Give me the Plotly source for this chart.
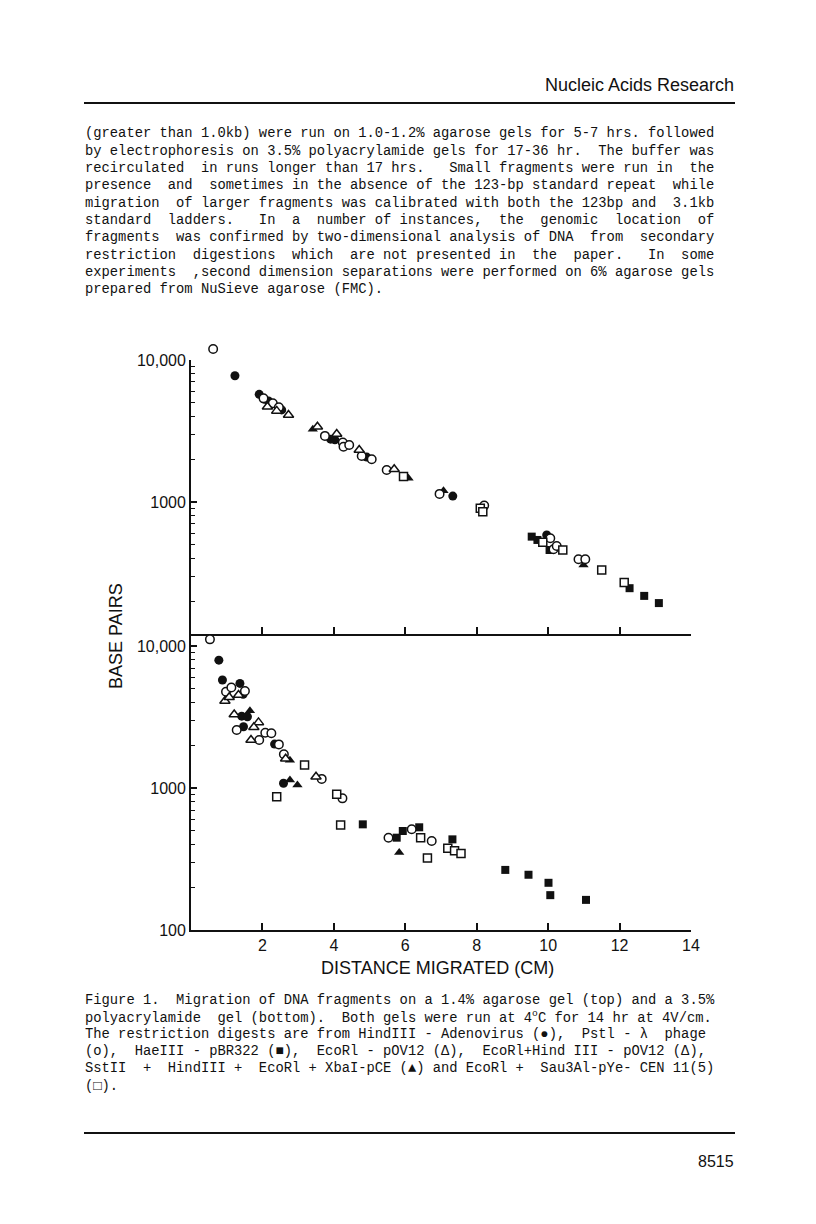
import plotly.graph_objects as go

# values (distance in cm, size in base pairs)

# top panel - 1.4% agarose gel
top_adeno_cm = [1.23, 1.91, 2.05, 2.17, 2.54, 3.91, 4.03, 4.92, 7.33, 9.96]
top_adeno_bp = [7740, 5730, 5300, 5140, 4450, 2770, 2740, 2070, 1100, 586]

top_lambda_cm = [2.03, 2.29, 2.46, 3.75, 4.25, 4.27, 4.43, 4.78, 5.06,
                 5.48, 6.96, 8.21, 10.06, 10.15, 10.24, 10.85, 11.04]
top_lambda_bp = [5370, 4950, 4640, 2920, 2620, 2450, 2520, 2110, 2000,
                 1680, 1140, 943, 555, 464, 490, 395, 395]
# the largest lambda band sits just above the 10,000 tick, outside the frame
top_lambda_above_cm = [0.62]
top_lambda_above_bp = [11950]

top_pbr_cm = [9.54, 9.70, 10.04, 12.28, 12.69, 13.10]
top_pbr_bp = [570, 540, 459, 247, 218, 194]

top_pov_cm = [2.14, 2.40, 2.73, 3.54, 4.08, 4.71, 5.69]
top_pov_bp = [4690, 4380, 4100, 3390, 3010, 2320, 1700]

top_pce_cm = [3.41, 6.09, 7.07, 10.99]
top_pce_bp = [3250, 1470, 1200, 360]

top_cen_cm = [5.95, 8.10, 8.17, 9.85, 10.41, 11.50, 12.13]
top_cen_bp = [1510, 904, 855, 520, 459, 332, 271]

# bottom panel - 3.5% polyacrylamide gel
bot_adeno_cm = [0.78, 0.88, 1.37, 1.46, 1.42, 1.58, 1.47, 2.34, 2.59]
bot_adeno_bp = [7960, 5770, 5460, 4570, 3210, 3180, 2700, 2040, 1080]

bot_lambda_cm = [0.53, 0.98, 1.13, 1.51, 1.28, 1.91, 2.08, 2.25, 2.46, 2.60,
                 3.66, 4.24, 5.53, 6.18, 6.74]
bot_lambda_bp = [11150, 4770, 5110, 4820, 2560, 2180, 2450, 2430, 2030, 1730,
                 1160, 846, 447, 512, 423]

bot_pbr_cm = [4.81, 5.76, 5.93, 6.39, 7.32, 8.80, 9.45, 10.01, 10.06, 11.06]
bot_pbr_bp = [555, 447, 498, 529, 435, 265, 245, 215, 176, 163]

bot_pov_cm = [0.95, 1.07, 1.33, 1.21, 1.89, 1.76, 1.68, 2.65, 3.50]
bot_pov_bp = [4100, 4360, 4520, 3300, 2900, 2680, 2180, 1610, 1200]

bot_pce_cm = [1.65, 2.77, 2.77, 2.98, 5.83]
bot_pce_bp = [3500, 1570, 1140, 1050, 352]

bot_cen_cm = [3.18, 2.40, 4.08, 4.19, 6.43, 6.62, 7.19, 7.38, 7.56]
bot_cen_bp = [1450, 869, 904, 548, 447, 321, 376, 361, 346]

x_ticks = [2, 4, 6, 8, 10, 12, 14]

W, H = 816, 1224
PAGE_OFFSET = 8  # the html body margin pushes the figure 8px right and down
INK = "#111111"
MONO = "Liberation Mono, Courier New, monospace"
SANS = "Liberation Sans, Arial, sans-serif"

body_lines = [
    "(greater than 1.0kb) were run on 1.0-1.2% agarose gels for 5-7 hrs. followed",
    "by electrophoresis on 3.5% polyacrylamide gels for 17-36 hr.  The buffer was",
    "recirculated  in runs longer than 17 hrs.   Small fragments were run in  the",
    "presence  and  sometimes in the absence of the 123-bp standard repeat  while",
    "migration  of larger fragments was calibrated with both the 123bp and  3.1kb",
    "standard  ladders.   In  a  number of instances,  the  genomic  location  of",
    "fragments  was confirmed by two-dimensional analysis of DNA  from  secondary",
    "restriction  digestions  which  are not presented in  the  paper.   In  some",
    "experiments  ,second dimension separations were performed on 6% agarose gels",
    "prepared from NuSieve agarose (FMC).",
]

caption_lines = [
    "Figure 1.  Migration of DNA fragments on a 1.4% agarose gel (top) and a 3.5%",
    "polyacrylamide  gel (bottom).  Both gels were run at 4<sup>o</sup>C for 14 hr at 4V/cm.",
    "The restriction digests are from HindIII - Adenovirus (\u25cf),  Pstl - \u03bb  phage",
    "(o),  HaeIII - pBR322 (\u25a0),  EcoRl - pOV12 (\u0394),  EcoRl+Hind III - pOV12 (\u0394),",
    "SstII  +  HindIII +  EcoRl + XbaI-pCE (\u25b2) and EcoRl +  Sau3Al-pYe- CEN 11(5)",
    "(\u25a1).",
]


def py(pix):
    """page pixel row -> paper y"""
    return 1 - (pix - PAGE_OFFSET) / H


def px(pix):
    """page pixel column -> paper x"""
    return (pix - PAGE_OFFSET) / W


def add_series(fig, x, y, symbol, filled, size, axis):
    fig.add_trace(go.Scatter(
        x=x, y=y, mode="markers",
        xaxis="x" if axis == 1 else "x%d" % axis,
        yaxis="y" if axis == 1 else "y%d" % axis,
        cliponaxis=False,
        showlegend=False,
        marker=dict(
            symbol=symbol, size=size,
            color=INK if filled else "white",
            line=dict(color=INK, width=0 if filled else 1.5),
        ),
    ))


fig = go.Figure()

# filled markers first, open ones on top (as in the print)
for axis, data in [
    (1, [(top_adeno_cm, top_adeno_bp, "circle", True, 9),
         (top_pbr_cm, top_pbr_bp, "square", True, 8),
         (top_pce_cm, top_pce_bp, "triangle-up", True, 9),
         (top_lambda_cm, top_lambda_bp, "circle", False, 8.5),
         (top_pov_cm, top_pov_bp, "triangle-up", False, 9),
         (top_cen_cm, top_cen_bp, "square", False, 8)]),
    (3, [(top_lambda_above_cm, top_lambda_above_bp, "circle", False, 8.5)]),
    (2, [(bot_adeno_cm, bot_adeno_bp, "circle", True, 9),
         (bot_pbr_cm, bot_pbr_bp, "square", True, 8),
         (bot_pce_cm, bot_pce_bp, "triangle-up", True, 9),
         (bot_lambda_cm, bot_lambda_bp, "circle", False, 8.5),
         (bot_pov_cm, bot_pov_bp, "triangle-up", False, 9),
         (bot_cen_cm, bot_cen_bp, "square", False, 8)]),
]:
    for x, y, sym, filled, size in data:
        add_series(fig, x, y, sym, filled, size, axis)

minor_vals = [m * 10 ** d for d in (2, 3) for m in range(2, 10)]
tick_font = dict(family=SANS, size=16, color=INK)

x_common = dict(
    range=[0, 14], tickmode="array", tickvals=x_ticks, automargin=False,
    showline=True, linecolor=INK, linewidth=1.8,
    ticks="inside", ticklen=7, tickwidth=1.8, tickcolor=INK,
    showgrid=False, zeroline=False, tickfont=tick_font,
)
y_common = dict(
    type="log", automargin=False,
    showline=True, linecolor=INK, linewidth=1.8,
    ticks="inside", ticklen=6, tickwidth=1.6, tickcolor=INK,
    showgrid=False, zeroline=False, tickfont=tick_font,
    minor=dict(tickmode="array", tickvals=minor_vals, ticks="inside",
               ticklen=4, tickwidth=1.3, tickcolor=INK, showgrid=False),
)

# 142 px per decade on both panels; the hidden pair extends the top panel
# 30 px upward so the off-frame band can be placed on the same scale.
# plot backgrounds are transparent so the hidden pair does not cover it.
fig.update_layout(
    width=W, height=H, autosize=False,
    margin=dict(l=0, r=0, t=0, b=0, pad=0),
    paper_bgcolor="white", plot_bgcolor="rgba(0,0,0,0)",
    xaxis=dict(x_common, domain=[px(191), px(691)], anchor="y",
               showticklabels=False),
    yaxis=dict(y_common, domain=[py(634), py(360)], anchor="x",
               range=[2.07, 4.0], tickvals=[1000, 10000],
               ticktext=["1000", "10,000"]),
    xaxis2=dict(x_common, domain=[px(191), px(691)], anchor="y2"),
    yaxis2=dict(y_common, domain=[py(930), py(634)], anchor="x2",
                range=[2.0, 4.085], tickvals=[100, 1000, 10000],
                ticktext=["100", "1000", "10,000"]),
    xaxis3=dict(domain=[px(191), px(691)], anchor="y3", range=[0, 14],
                visible=False),
    yaxis3=dict(type="log", domain=[py(634), py(330)], anchor="x3",
                range=[2.07, 4.0 + 30 / 142], visible=False),
)

# axis titles
fig.add_annotation(text="BASE PAIRS", xref="paper", yref="paper",
                   x=px(116), y=py(636), xanchor="center", yanchor="middle",
                   textangle=-90, showarrow=False,
                   font=dict(family=SANS, size=18, color=INK))
fig.add_annotation(text="DISTANCE MIGRATED (CM)", xref="paper", yref="paper",
                   x=px(437), y=py(968), xanchor="center", yanchor="middle",
                   showarrow=False, font=dict(family=SANS, size=18, color=INK))

# journal page furniture
fig.add_annotation(text="Nucleic Acids Research", xref="paper", yref="paper",
                   x=px(736), y=py(85), xanchor="right", yanchor="middle",
                   showarrow=False, font=dict(family=SANS, size=18, color=INK))
fig.add_annotation(text="8515", xref="paper", yref="paper",
                   x=px(736), y=py(1161), xanchor="right", yanchor="middle",
                   showarrow=False, font=dict(family=SANS, size=16, color=INK))
for rule_y in (103, 1133):
    fig.add_shape(type="line", xref="paper", yref="paper",
                  x0=px(84), x1=px(735), y0=py(rule_y), y1=py(rule_y),
                  line=dict(color=INK, width=2))


def add_text_block(lines, top, step):
    for i, line in enumerate(lines):
        fig.add_annotation(
            text=line.replace(" ", "\u00a0"), xref="paper", yref="paper",
            x=px(83), y=py(top + i * step), xanchor="left", yanchor="middle",
            showarrow=False, align="left",
            font=dict(family=MONO, size=13.8, color=INK),
        )


add_text_block(body_lines, 134, 17.3)
add_text_block(caption_lines, 1000, 17.2)

fig.write_html("out.html")
